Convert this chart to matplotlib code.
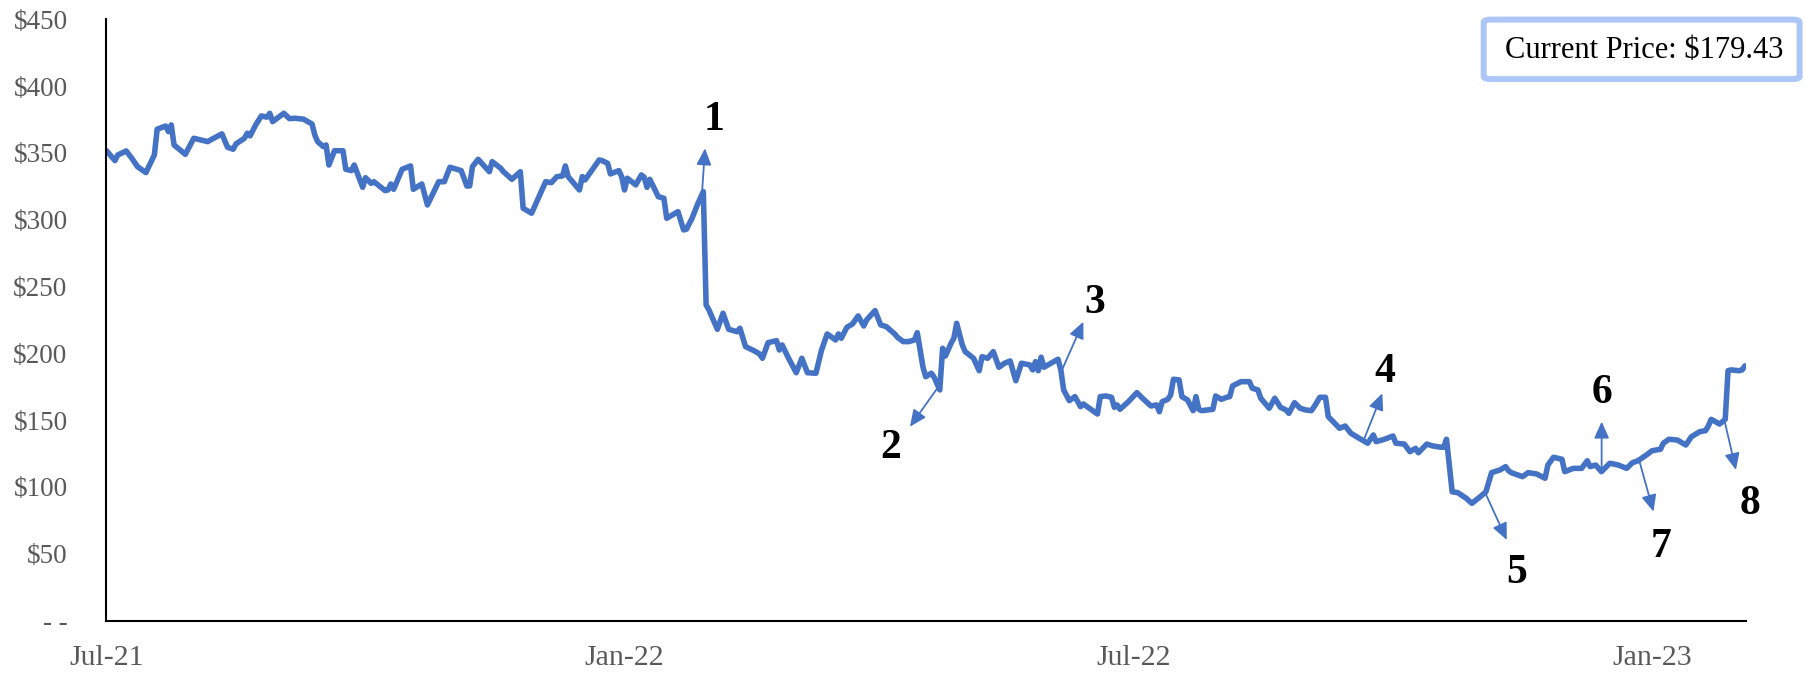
import numpy as np
import pandas as pd
import matplotlib
matplotlib.use("Agg")
import matplotlib.pyplot as plt
import matplotlib.dates as mdates
from matplotlib.patches import FancyBboxPatch

plt.rcParams["font.family"] = ["Liberation Serif", "DejaVu Serif"]

# daily closes, days counted from the first session shown
start = pd.Timestamp("2021-07-01")
day = [0, 3, 4, 7, 9, 11, 14, 17, 18, 21, 22, 23, 24, 28, 31, 36, 37, 41, 43, 45,
       46, 49, 50, 51, 53, 55, 57, 58, 59, 63, 65, 67,
       70, 73, 74, 75, 77, 78, 79, 81, 84, 85, 87, 88, 91, 92, 94, 95, 99, 100, 101, 102,
       105, 108, 109, 112, 114, 116, 118, 120, 122, 126, 128, 129, 130, 132, 136, 137, 140, 141,
       144, 147, 148, 151, 153, 156, 158, 160, 162, 163, 164, 168, 169, 170, 175, 176, 178, 179,
       182, 183, 184, 185, 188, 190, 191, 192, 193, 196, 198, 199, 203, 205, 206, 208, 210, 212,
       213, 214,
       217, 219, 221, 224, 225, 227, 230, 232, 233, 235, 238, 239, 240, 242, 245, 247, 249, 252,
       254, 256, 259, 260, 261, 263, 265, 267, 269, 270, 273, 275, 277, 280, 281, 283, 285,
       287, 288, 290, 291, 293, 294, 296, 297, 298, 300, 301, 302, 304, 305, 308, 310, 311, 313,
       315, 317, 319, 321, 323, 325, 328, 329, 330, 331, 332, 333, 338, 339, 340, 342, 344, 346,
       347, 352, 353, 355,
       357, 358, 359, 360, 363, 366, 368, 371, 373, 374, 375, 377, 378, 379, 381, 382, 384, 386,
       387, 388, 389, 393, 394, 396, 398, 399, 400, 403, 406, 407, 409, 410, 413, 415, 417, 419,
       420, 422, 424,
       426, 428, 429, 431, 433, 434, 438, 440, 442, 445, 448, 450, 451, 454, 457, 458, 461, 463,
       465, 466, 469, 471, 474, 475, 476, 478, 480, 483, 485, 488, 490, 492, 495, 497,
       498, 499, 503, 505, 508, 511, 512, 514, 517, 518, 521, 524, 526, 527, 529, 531, 534, 537,
       540, 542, 544, 547, 549, 552, 553, 555, 558, 561, 563, 566, 568, 569, 570, 573, 575, 576,
       577, 580, 581, 582]
close = [351.7, 344.3, 348.5, 351.5, 346.0, 339.8, 335.3, 348.5, 367.8, 370.2, 366.0, 371.0,
         356.0, 349.0, 361.0, 358.5, 359.8, 364.3, 354.3, 352.8, 356.8, 361.0, 364.8, 362.8,
         371.0, 377.7, 376.8, 379.7, 373.5, 379.7, 375.7, 376.0,
         375.3, 371.7, 363.5, 358.5, 354.8, 356.0, 341.0, 351.7, 351.7, 337.8, 336.8, 341.0,
         324.3, 331.5, 327.3, 328.5, 321.8, 322.3, 326.8, 322.8, 337.8, 340.3, 322.8, 326.8,
         311.1, 319.8, 328.5, 328.5, 339.3, 336.8, 325.3, 325.3, 339.8, 345.3, 336.0, 343.5,
         338.6, 336.0,
         330.3, 336.0, 308.6, 304.9, 314.3, 328.5, 327.8, 332.3, 332.8, 340.3, 332.3, 322.3,
         332.3, 329.8, 344.8, 344.3, 342.3, 334.3, 336.8, 332.3, 322.3, 331.1, 326.1, 333.6,
         331.8, 324.3, 330.3, 317.3, 316.1, 301.1, 306.1, 292.4, 292.9, 301.1, 311.8, 321.1,
         236.2, 232.5,
         218.0, 230.0, 218.0, 216.2, 218.8, 205.0, 202.0, 199.5, 196.3, 208.0, 209.5, 202.5,
         206.3, 197.5, 185.5, 196.3, 185.5, 185.1, 202.5, 214.5, 210.0, 214.5, 211.3, 219.5,
         222.0, 228.0, 220.5, 225.0, 232.0, 221.3, 220.0, 214.5, 212.0, 208.8, 208.8,
         210.0, 215.5, 190.0, 182.5, 185.1, 182.1, 172.6, 203.8, 198.0, 207.5, 211.3, 222.5,
         206.3, 201.3, 196.3, 187.0, 197.5, 196.3, 201.3, 189.6, 192.6, 194.3, 179.5, 192.6,
         191.3, 187.6, 193.8, 187.0, 197.1, 189.6, 195.6, 187.6, 172.6, 164.6, 167.6, 160.1,
         162.1, 154.6, 167.6, 168.1,
         167.1, 159.6, 161.4, 158.1, 163.8, 170.6, 166.4, 160.6, 161.4, 156.3, 163.8, 165.6,
         168.8, 180.6, 180.1, 167.6, 165.1, 157.1, 167.6, 158.1, 157.1, 158.1, 168.1, 165.6,
         167.1, 167.6, 175.6, 178.8, 178.8, 173.9, 172.6, 166.4, 158.9, 166.4, 159.6, 157.6,
         155.1, 163.1, 158.9,
         157.6, 157.1, 160.1, 167.1, 167.1, 152.6, 143.9, 145.6, 140.2, 136.4, 132.7, 138.9,
         133.9, 135.7, 138.1, 132.7, 132.1, 126.4, 128.9, 125.6, 132.1, 130.7, 129.7, 129.7,
         135.7, 96.4, 95.7, 91.5, 87.7, 92.7, 96.4, 110.7, 112.7, 115.2,
         112.2, 110.7, 107.7, 110.7, 109.7, 106.5, 116.4, 122.2, 120.7, 111.4, 113.9, 113.9,
         119.6, 115.2, 116.4, 111.4, 117.7, 116.4, 113.9, 118.1, 119.6, 123.9, 127.1, 128.2,
         132.7, 135.7, 135.1, 131.4, 137.6, 141.4, 142.1, 145.6, 150.6, 147.1, 150.6, 187.0,
         187.6, 187.0, 187.6, 190.6]

# numbered events: day of the event, arrow tip and label (day, price)
event_num = ["1", "2", "3", "4", "5", "6", "7", "8"]
event_day = [211.5, 295.5, 339.1, 446.5, 489.7, 531.1, 544.4, 574.7]
tip_day = [212.6, 285.4, 347.0, 453.2, 497.4, 531.1, 549.5, 578.8]
tip_px = [353.5, 145.1, 223.7, 170.1, 60.3, 148.9, 81.5, 112.7]
label_day = [215.8, 278.7, 350.9, 454.2, 500.8, 531.4, 552.2, 583.8]
label_px = [374.7, 129.2, 237.5, 186.3, 35.3, 170.1, 54.7, 87.0]

current_price = 179.43
y_ticks = [0, 50, 100, 150, 200, 250, 300, 350, 400, 450]
x_ticks = ["2021-07-01", "2022-01-01", "2022-07-01", "2023-01-01"]

blue = "#4472C4"
grey = "#595959"

dates = start + pd.to_timedelta(day, unit="D")
to_date = lambda d: start + pd.Timedelta(days=d)

fig = plt.figure(figsize=(18.05, 6.76), dpi=100)
ax = fig.add_axes([0.0590, 0.0821, 0.9085, 0.8892])

ax.plot(dates, close, color=blue, lw=4.0,
        solid_joinstyle="round", solid_capstyle="round")

ax.set_ylim(0, 450)
ax.set_xlim(start, to_date(582.5))
ax.set_yticks(y_ticks)
ax.set_yticklabels(["- -" if v == 0 else f"${v}" for v in y_ticks])
ax.set_xticks(pd.to_datetime(x_ticks))
ax.xaxis.set_major_formatter(mdates.DateFormatter("%b-%y"))
ax.tick_params(axis="y", length=0, pad=28, labelsize=19.5, labelcolor=grey)
ax.tick_params(axis="x", length=0, pad=17.5, labelsize=21.5, labelcolor=grey)

for side in ["top", "right"]:
    ax.spines[side].set_visible(False)
for side in ["left", "bottom"]:
    ax.spines[side].set_linewidth(1.5)
    ax.spines[side].set_color("black")

# arrows out of the line with the event numbers
for num, d, td, tp, ld, lp in zip(event_num, event_day, tip_day, tip_px,
                                  label_day, label_px):
    p = np.interp(d, day, close)
    ax.annotate("", xy=(to_date(td), tp), xytext=(to_date(d), p),
                arrowprops=dict(arrowstyle="-|>,head_length=10,head_width=4.5",
                                mutation_scale=1, color=blue, lw=1.3,
                                shrinkA=0, shrinkB=0),
                annotation_clip=False)
    ax.text(to_date(ld), lp, num, fontsize=30, fontweight="bold",
            ha="center", va="center", color="black", clip_on=False)

# current price box in the top right corner
box = FancyBboxPatch((0.8220, 0.8830), 0.1750, 0.0880,
                     boxstyle="round,pad=0,rounding_size=0.004",
                     transform=fig.transFigure, facecolor="white",
                     edgecolor="#ADC6F8", linewidth=4.3)
fig.add_artist(box)
fig.text(0.8338, 0.926, f"Current Price: ${current_price:.2f}",
         fontsize=22, ha="left", va="center", color="black")

fig.savefig("out.png", dpi=100)
